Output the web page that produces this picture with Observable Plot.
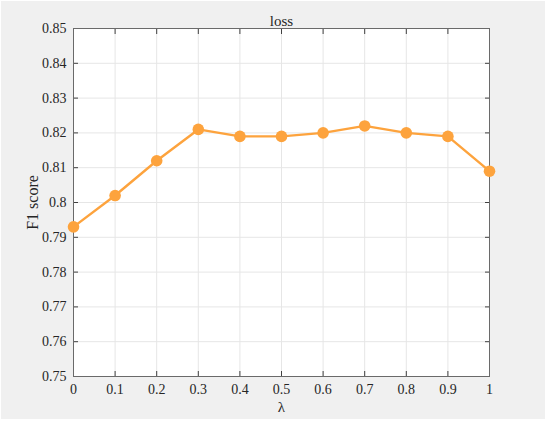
<!DOCTYPE html>
<html><head><meta charset="utf-8">
<script src="https://cdn.jsdelivr.net/npm/d3@7"></script>
<script src="https://cdn.jsdelivr.net/npm/@observablehq/plot@0.6"></script>
<style>
html,body{margin:0;padding:0;background:#ffffff;}
#chart{width:550px;height:424px;}
#chart svg{clip-path: inset(1px 5px 5px 1px);}
</style></head>
<body><div id="chart"></div>
<script>
const lambdas = [0, 0.1, 0.2, 0.3, 0.4, 0.5, 0.6, 0.7, 0.8, 0.9, 1];
const f1 = [0.793, 0.802, 0.812, 0.821, 0.819, 0.819, 0.820, 0.822, 0.820, 0.819, 0.809];
const xTicks = [0, 0.1, 0.2, 0.3, 0.4, 0.5, 0.6, 0.7, 0.8, 0.9, 1];
const yTicks = [0.75, 0.76, 0.77, 0.78, 0.79, 0.8, 0.81, 0.82, 0.83, 0.84, 0.85];
const data = lambdas.map((l, i) => ({l, f: f1[i]}));
const fmt = d => String(+d.toFixed(2));
const col = "#fda33d";
const font = "Liberation Serif";

const chart = Plot.plot({
  width: 550, height: 424,
  marginLeft: 73, marginRight: 61, marginTop: 28, marginBottom: 48,
  style: {background: "#f0f0f0", fontFamily: font, fontSize: "14px", color: "#262626"},
  x: {domain: [0, 1]},
  y: {domain: [0.75, 0.85]},
  marks: [
    Plot.frame({fill: "white", stroke: "none"}),
    Plot.gridX(xTicks, {stroke: "#e6e6e6", strokeOpacity: 1}),
    Plot.gridY(yTicks, {stroke: "#e6e6e6", strokeOpacity: 1}),
    Plot.axisX(xTicks, {anchor: "bottom", tickSize: -5, tickPadding: 13, tickFormat: fmt, label: null, fontSize: 14, fontFamily: font, stroke: "#404040"}),
    Plot.axisX(xTicks, {anchor: "top", tickSize: -5, tickFormat: () => "", label: null, stroke: "#404040"}),
    Plot.axisY(yTicks, {anchor: "left", tickSize: -5, tickPadding: 12, tickFormat: fmt, label: null, fontSize: 14, fontFamily: font, stroke: "#404040"}),
    Plot.axisY(yTicks, {anchor: "right", tickSize: -5, tickFormat: () => "", label: null, stroke: "#404040"}),
    Plot.frame({stroke: "#6a6a6a", strokeWidth: 1}),
    Plot.line(data, {x: "l", y: "f", stroke: col, strokeWidth: 2.4}),
    Plot.dot(data, {x: "l", y: "f", fill: col, r: 5.8}),
    Plot.text(["loss"], {frameAnchor: "top", lineAnchor: "bottom", dy: -3, fontSize: 15, fontFamily: font, fill: "#262626"}),
    Plot.text(["λ"], {frameAnchor: "bottom", lineAnchor: "top", dy: 25, fontSize: 15, fontFamily: font, fill: "#262626"}),
    Plot.text(["F1 score"], {frameAnchor: "left", textAnchor: "middle", dx: -41, rotate: -90, fontSize: 16, fontFamily: font, fill: "#262626"})
  ]
});
document.getElementById("chart").appendChild(chart);
</script></body></html>
